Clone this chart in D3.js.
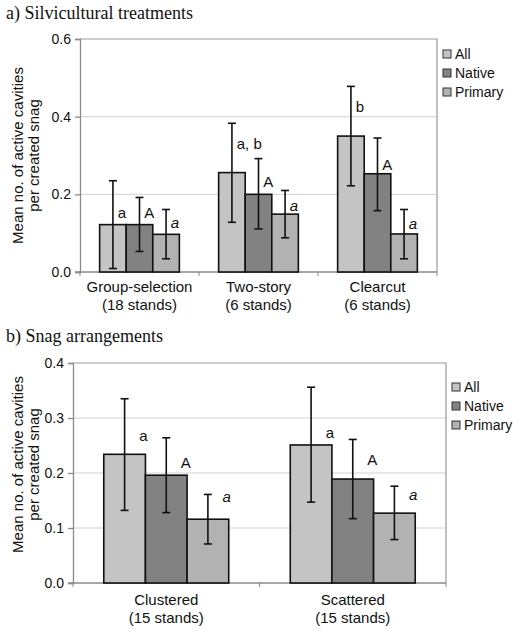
<!DOCTYPE html>
<html>
<head>
<meta charset="utf-8">
<script src="https://cdn.jsdelivr.net/npm/d3@7"></script>
<style>
  body { margin: 0; background: #fff; }
  svg { display: block; }
  text { font-family: "Liberation Sans", Arial, sans-serif; fill: #111; }
  .title { font-family: "Liberation Serif", "Times New Roman", serif; font-size: 18px; }
</style>
</head>
<body>
<div id="chart"></div>
<script>
// series shared by both panels
var seriesNames = ["All", "Native", "Primary"];
var seriesColors = ["#c4c4c4", "#828282", "#b2b2b2"];

// panel a) silvicultural treatments
var treatCats = ["Group-selection", "Two-story", "Clearcut"];
var treatStands = ["(18 stands)", "(6 stands)", "(6 stands)"];
var treatAll = [0.122, 0.256, 0.350];
var treatAllLo = [0.009, 0.128, 0.222];
var treatAllHi = [0.235, 0.383, 0.478];
var treatNative = [0.122, 0.200, 0.253];
var treatNativeLo = [0.053, 0.111, 0.158];
var treatNativeHi = [0.192, 0.292, 0.345];
var treatPrimary = [0.097, 0.149, 0.098];
var treatPrimaryLo = [0.034, 0.088, 0.034];
var treatPrimaryHi = [0.161, 0.210, 0.161];
var treatLetters = [["a", "A", "a"], ["a, b", "A", "a"], ["b", "A", "a"]];
var treatLetterAt = [[0.139, 0.139, 0.113], [0.317, 0.220, 0.158], [0.413, 0.263, 0.111]];
var treatTicks = [0, 0.2, 0.4, 0.6];

// panel b) snag arrangements
var arrCats = ["Clustered", "Scattered"];
var arrStands = ["(15 stands)", "(15 stands)"];
var arrAll = [0.234, 0.251];
var arrAllLo = [0.132, 0.147];
var arrAllHi = [0.335, 0.356];
var arrNative = [0.196, 0.189];
var arrNativeLo = [0.128, 0.117];
var arrNativeHi = [0.264, 0.261];
var arrPrimary = [0.116, 0.127];
var arrPrimaryLo = [0.071, 0.079];
var arrPrimaryHi = [0.161, 0.176];
var arrLetters = [["a", "A", "a"], ["a", "A", "a"]];
var arrLetterAt = [[0.258, 0.209, 0.148], [0.264, 0.215, 0.151]];
var arrTicks = [0, 0.1, 0.2, 0.3, 0.4];

var svg = d3.select("#chart").append("svg")
    .attr("width", 513)
    .attr("height", 631);

/* draws one bar panel with error bars, letters and legend */
function drawPanel(p) {

    var g = svg.append("g");

    // title
    g.append("text")
        .attr("class", "title")
        .attr("x", 6)
        .attr("y", p.titleY)
        .text(p.title);

    var xScale = d3.scaleBand()
        .domain(p.cats)
        .range([p.left, p.right])
        .paddingInner(0.33)
        .paddingOuter(0.165);

    var xSub = d3.scaleBand()
        .domain(seriesNames)
        .range([0, xScale.bandwidth()]);

    var yScale = d3.scaleLinear()
        .domain([0, p.max])
        .range([p.bottom, p.top]);

    // gridlines
    g.selectAll(".grid")
        .data(p.ticks.filter(function(t) { return t > 0 && t < p.max; }))
        .enter().append("line")
        .attr("x1", p.left)
        .attr("x2", p.right)
        .attr("y1", function(d) { return yScale(d); })
        .attr("y2", function(d) { return yScale(d); })
        .attr("stroke", "#d2d2d2")
        .attr("stroke-width", 1);

    // frame top and right
    g.append("path")
        .attr("d", "M" + p.left + "," + yScale(p.max) + "H" + p.right + "V" + p.bottom)
        .attr("fill", "none")
        .attr("stroke", "#9a9a9a")
        .attr("stroke-width", 1.2);

    // y axis
    var yAxis = d3.axisLeft(yScale)
        .tickValues(p.ticks)
        .tickFormat(d3.format(".1f"))
        .tickSize(5)
        .tickPadding(4);
    var ya = g.append("g")
        .attr("transform", "translate(" + p.left + ",0)")
        .call(yAxis);
    ya.select(".domain").attr("stroke", "#8a8a8a").attr("stroke-width", 1.3);
    ya.selectAll(".tick line").attr("stroke", "#8a8a8a").attr("stroke-width", 1.3);
    ya.selectAll(".tick text").style("font-size", "14px").attr("fill", "#111");

    // x axis line with small ticks between groups
    var bounds = d3.range(p.cats.length + 1).map(function(i) {
        return p.left + i * (p.right - p.left) / p.cats.length;
    });
    g.append("line")
        .attr("x1", p.left - 5).attr("x2", p.right)
        .attr("y1", p.bottom).attr("y2", p.bottom)
        .attr("stroke", "#8a8a8a").attr("stroke-width", 1.3);
    g.selectAll(".xtick")
        .data(bounds)
        .enter().append("line")
        .attr("x1", function(d) { return d; })
        .attr("x2", function(d) { return d; })
        .attr("y1", p.bottom)
        .attr("y2", p.bottom + 4)
        .attr("stroke", "#8a8a8a");

    // category labels
    p.cats.forEach(function(c, i) {
        var cx = xScale(c) + xScale.bandwidth() / 2;
        g.append("text")
            .attr("x", cx).attr("y", p.catY)
            .attr("text-anchor", "middle")
            .style("font-size", "15px")
            .text(c);
        g.append("text")
            .attr("x", cx).attr("y", p.catY + 18)
            .attr("text-anchor", "middle")
            .style("font-size", "15px")
            .text(p.stands[i]);
    });

    // build rows for bars
    var rows = [];
    p.cats.forEach(function(c, i) {
        seriesNames.forEach(function(s, j) {
            rows.push({
                cat: c, series: s, j: j,
                value: p.values[j][i],
                lo: p.lows[j][i],
                hi: p.highs[j][i],
                letter: p.letters[i][j],
                letterAt: p.letterAt[i][j]
            });
        });
    });

    // bars
    g.selectAll(".bar")
        .data(rows).enter().append("rect")
        .attr("x", function(d) { return xScale(d.cat) + xSub(d.series); })
        .attr("y", function(d) { return yScale(d.value); })
        .attr("width", xSub.bandwidth())
        .attr("height", function(d) { return yScale(0) - yScale(d.value); })
        .attr("fill", function(d) { return seriesColors[d.j]; })
        .attr("stroke", "#111")
        .attr("stroke-width", 1.6);

    // error bars
    var cap = 4;
    var errs = g.selectAll(".err").data(rows).enter().append("g");
    errs.append("line")
        .attr("x1", function(d) { return xScale(d.cat) + xSub(d.series) + xSub.bandwidth() / 2; })
        .attr("x2", function(d) { return xScale(d.cat) + xSub(d.series) + xSub.bandwidth() / 2; })
        .attr("y1", function(d) { return yScale(d.lo); })
        .attr("y2", function(d) { return yScale(d.hi); });
    [function(d) { return d.lo; }, function(d) { return d.hi; }].forEach(function(acc) {
        errs.append("line")
            .attr("x1", function(d) { return xScale(d.cat) + xSub(d.series) + xSub.bandwidth() / 2 - cap; })
            .attr("x2", function(d) { return xScale(d.cat) + xSub(d.series) + xSub.bandwidth() / 2 + cap; })
            .attr("y1", function(d) { return yScale(acc(d)); })
            .attr("y2", function(d) { return yScale(acc(d)); });
    });
    errs.selectAll("line").attr("stroke", "#111").attr("stroke-width", 1.6);

    // significance letters, left edge just right of the error bar
    g.selectAll(".letter")
        .data(rows).enter().append("text")
        .attr("x", function(d) { return xScale(d.cat) + xSub(d.series) + xSub.bandwidth() * p.letterDx; })
        .attr("y", function(d) { return yScale(d.letterAt); })
        .attr("text-anchor", "start")
        .style("font-size", "15px")
        .style("font-style", function(d) { return d.j == 2 ? "italic" : "normal"; })
        .text(function(d) { return d.letter; });

    // legend
    seriesNames.forEach(function(s, j) {
        var ly = p.legendY + j * 19;
        g.append("rect")
            .attr("x", p.legendX).attr("y", ly - 4)
            .attr("width", 8).attr("height", 8)
            .attr("fill", seriesColors[j])
            .attr("stroke", "#333").attr("stroke-width", 1);
        g.append("text")
            .attr("x", p.legendX + 12).attr("y", ly + 5)
            .style("font-size", "14px")
            .text(s);
    });

    // y axis title
    var midY = (p.labelTop + p.labelBottom) / 2;
    ["Mean no. of active cavities", "per created snag"].forEach(function(t, k) {
        g.append("text")
            .attr("text-anchor", "middle")
            .attr("transform", "translate(" + [23 + k * 16, midY] + ") rotate(-90)")
            .style("font-size", "15px")
            .text(t);
    });
}

drawPanel({
    title: "a) Silvicultural treatments", titleY: 19,
    cats: treatCats, stands: treatStands,
    values: [treatAll, treatNative, treatPrimary],
    lows: [treatAllLo, treatNativeLo, treatPrimaryLo],
    highs: [treatAllHi, treatNativeHi, treatPrimaryHi],
    letters: treatLetters, letterAt: treatLetterAt, letterDx: 0.68,
    ticks: treatTicks, max: 0.6,
    left: 80, right: 437, top: 39, bottom: 272,
    catY: 292, legendX: 443, legendY: 54,
    labelTop: 39, labelBottom: 272
});

drawPanel({
    title: "b) Snag arrangements", titleY: 342,
    cats: arrCats, stands: arrStands,
    values: [arrAll, arrNative, arrPrimary],
    lows: [arrAllLo, arrNativeLo, arrPrimaryLo],
    highs: [arrAllHi, arrNativeHi, arrPrimaryHi],
    letters: arrLetters, letterAt: arrLetterAt, letterDx: 0.85,
    ticks: arrTicks, max: 0.4,
    left: 73, right: 446, top: 363, bottom: 583,
    catY: 605, legendX: 452, legendY: 387,
    labelTop: 363, labelBottom: 566
});
</script>
</body>
</html>
